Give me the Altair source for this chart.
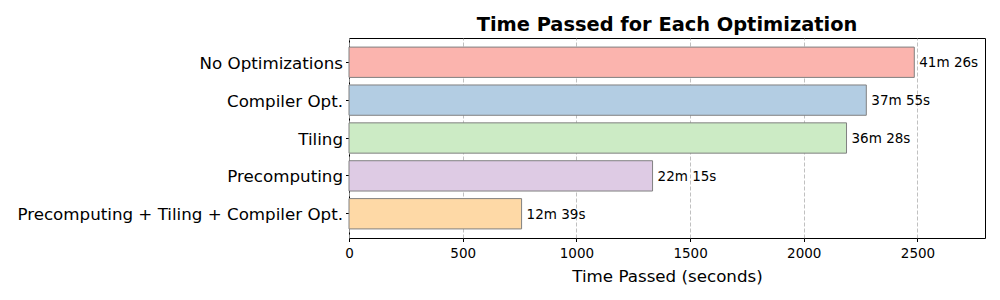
import altair as alt
import pandas as pd

categories = ["No Optimizations", "Compiler Opt.", "Tiling", "Precomputing",
              "Precomputing + Tiling + Compiler Opt."]
seconds = [2486, 2275, 2188, 1335, 759]
labels = ["41m 26s", "37m 55s", "36m 28s", "22m 15s", "12m 39s"]
colors = ["#fbb4ae", "#b3cde3", "#ccebc5", "#decbe4", "#fed9a6"]
x_ticks = [0, 500, 1000, 1500, 2000, 2500]

df = pd.DataFrame({"cat": categories, "sec": seconds, "lab": labels})

FONT = "DejaVu Sans"

y_enc = alt.Y("cat:N", sort=categories,
              scale=alt.Scale(paddingInner=0.2, paddingOuter=0.24),
              axis=alt.Axis(title=None, labelFontSize=16.7, labelColor="black",
                            labelFont=FONT, tickSize=3.5, tickColor="black",
                            domain=False, labelPadding=3, labelLimit=400,
                            labelOffset=1.5))
x_enc = alt.X("sec:Q",
              scale=alt.Scale(domain=[0, 2797], nice=False, zero=True),
              axis=alt.Axis(title="Time Passed (seconds)", values=x_ticks,
                            format="d",
                            titleFontSize=16.7, titleFontWeight="normal",
                            titleColor="black", titleFont=FONT,
                            labelFontSize=13.5, labelColor="black", labelFont=FONT,
                            tickSize=3.5, tickColor="black", domain=False,
                            grid=True, gridDash=[4, 2], gridColor="#b0b0b0",
                            gridWidth=0.8, labelPadding=5, titlePadding=8,
                            labelFlush=False))

bars = alt.Chart(df).mark_bar(stroke="#808080", strokeWidth=1).encode(
    x=x_enc, y=y_enc,
    color=alt.Color("cat:N", sort=categories,
                    scale=alt.Scale(domain=categories, range=colors), legend=None),
)
text = alt.Chart(df).mark_text(align="left", baseline="middle", dx=5, dy=1,
                               fontSize=13.5, font=FONT, color="black").encode(
    x=alt.X("sec:Q"), y=alt.Y("cat:N", sort=categories), text="lab:N"
)

chart = alt.layer(bars, text).properties(
    width=636, height=200,
    title=alt.TitleParams("Time Passed for Each Optimization", fontSize=19.4,
                          fontWeight="bold", font=FONT, color="black",
                          anchor="middle", frame="group", offset=3),
    autosize=alt.AutoSizeParams(type="none"),
    padding={"left": 341, "top": 30, "right": 7, "bottom": 54},
).configure_view(stroke="black", strokeWidth=1)

chart.save("out.html", embed_options={"renderer": "svg", "actions": False})
